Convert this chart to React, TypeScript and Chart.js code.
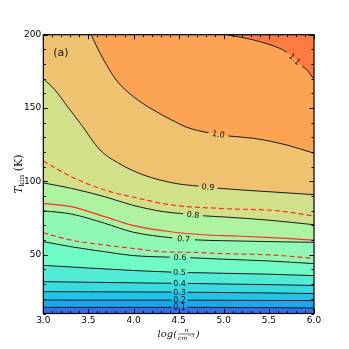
import React, { useEffect, useRef } from 'react';
import { Chart, registerables } from 'chart.js';

Chart.register(...registerables);

// ---------------- data ----------------
const levels = ['0.1', '0.2', '0.3', '0.4', '0.5', '0.6', '0.7', '0.8', '0.9', '1.0', '1.1'];

const xLow = [3.0, 3.5, 4.0, 4.42, 4.6, 5.0, 5.5, 6.0];
const t01 = [14.2, 14.2, 14.2, 14.2, 14.2, 14.1, 14.0, 13.8];
const t02 = [19.2, 19.1, 19.1, 19.1, 19.1, 19.0, 18.9, 18.8];
const t03 = [24.9, 24.8, 24.7, 24.6, 24.5, 24.3, 24.0, 23.6];
const t04 = [31.7, 31.3, 30.9, 30.6, 30.5, 30.1, 29.7, 29.1];
const t05 = [42.8, 41.0, 39.3, 38.2, 37.9, 37.4, 36.8, 35.8];
const x06 = [3.0, 3.31, 3.68, 3.99, 4.4, 4.63, 5.0, 5.5, 6.0];
const t06 = [59.0, 55.5, 52.1, 49.5, 48.4, 48.0, 47.0, 45.8, 44.0];
const x07 = [3.0, 3.31, 3.68, 3.99, 4.43, 4.68, 5.0, 5.5, 6.0];
const t07 = [80.0, 77.8, 71.5, 65.5, 61.5, 60.2, 59.6, 59.0, 58.5];
const x08 = [3.0, 3.31, 3.68, 3.99, 4.33, 4.55, 4.77, 5.0, 5.5, 6.0];
const t08 = [99.0, 95.3, 89.6, 83.8, 79.4, 78.0, 76.6, 75.8, 73.6, 70.5];
const x09 = [3.0, 3.13, 3.28, 3.41, 3.63, 3.85, 4.11, 4.46, 4.72, 4.93, 5.5, 6.0];
const t09 = [170, 162.3, 150, 139.6, 121.4, 111.9, 104.4, 98.7, 96.8, 95.4, 93.0, 91.0];
const x10 = [3.53, 3.63, 3.81, 4.0, 4.22, 4.46, 4.59, 4.83, 5.05, 5.33, 5.7, 6.0];
const t10 = [200, 187.3, 169, 157.7, 148.7, 140.7, 136.9, 133.2, 131.0, 129.4, 124.8, 119.2];
const x11 = [5.03, 5.33, 5.62, 5.7, 5.87, 5.93, 6.0];
const t11 = [200, 196.4, 190.7, 188.0, 178.6, 175.5, 169.6];

// x where each contour label's gap starts
const labelGapFrom = [4.42, 4.42, 4.42, 4.42, 4.42, 4.4, 4.43, 4.55, 4.72, 4.83, 5.7];

// red overlay lines
const redLowX = [3.0, 3.31, 3.68, 3.99, 4.33, 4.7, 5.0, 5.5, 6.0];
const redLowT = [65, 60, 56.7, 54.4, 52.1, 51.6, 50.8, 50.0, 47.6];
const redMidX = [3.0, 3.31, 3.68, 3.99, 4.41, 4.81, 5.14, 5.7, 6.0];
const redMidT = [85, 82.8, 76, 70, 65.7, 63.5, 62.8, 61.2, 60];
const redUpX = [3.0, 3.31, 3.68, 3.99, 4.42, 5.0, 5.6, 6.0];
const redUpT = [113.9, 103.2, 94.2, 89.4, 84, 81.5, 80, 76.5];

const xTicks = [3.0, 3.5, 4.0, 4.5, 5.0, 5.5, 6.0];
const yTicks = [50, 100, 150, 200];

const fillColors = [
  '#2f6fe8', '#17a8ee', '#20c4e8', '#38dbe0', '#52ecd6', '#70fac6',
  '#8ff8b4', '#aef3a0', '#d3e08a', '#efc26f', '#fda354', '#ff7a40',
];

const contours = [
  { x: xLow, t: t01 }, { x: xLow, t: t02 }, { x: xLow, t: t03 }, { x: xLow, t: t04 },
  { x: xLow, t: t05 }, { x: x06, t: t06 }, { x: x07, t: t07 }, { x: x08, t: t08 },
  { x: x09, t: t09 }, { x: x10, t: t10 }, { x: x11, t: t11 },
];

const redLines = [
  { x: redUpX, t: redUpT, dash: [5, 3] },
  { x: redMidX, t: redMidT, dash: [] as number[] },
  { x: redLowX, t: redLowT, dash: [5, 3] },
];

const LINE = '#1a1a1a';
const RED = '#ff2a2a';

const decor = {
  id: 'decor',
  beforeDatasetsDraw(chart: any) {
    const { ctx, chartArea: a } = chart;
    ctx.save();
    ctx.fillStyle = fillColors[0];
    ctx.fillRect(a.left, a.top, a.right - a.left, a.bottom - a.top);
    ctx.restore();
  },
  afterDatasetsDraw(chart: any) {
    const { ctx, chartArea: a, scales } = chart;
    const xs = scales.x, ys = scales.y;
    // contour labels
    ctx.save();
    ctx.font = '8px "DejaVu Sans"';
    ctx.fillStyle = '#111';
    ctx.textAlign = 'center';
    ctx.textBaseline = 'middle';
    contours.forEach((c, i) => {
      const j = c.x.indexOf(labelGapFrom[i]);
      if (j < 0) return;
      const x0 = xs.getPixelForValue(c.x[j]);
      const y0 = ys.getPixelForValue(c.t[j]);
      const x1 = xs.getPixelForValue(c.x[j + 1]);
      const y1 = ys.getPixelForValue(c.t[j + 1]);
      ctx.save();
      ctx.translate((x0 + x1) / 2, (y0 + y1) / 2);
      ctx.rotate(Math.atan2(y1 - y0, x1 - x0));
      ctx.fillText(levels[i], 0, 0.5);
      ctx.restore();
    });
    ctx.restore();

    // panel label
    ctx.save();
    ctx.font = '11px "DejaVu Sans"';
    ctx.fillStyle = '#111';
    ctx.textAlign = 'left';
    ctx.textBaseline = 'middle';
    ctx.fillText('(a)', a.left + 10, a.top + 18);
    ctx.restore();

    // frame and inward ticks
    ctx.save();
    ctx.strokeStyle = '#000';
    ctx.lineWidth = 1;
    ctx.beginPath();
    for (let k = 0; k <= 30; k++) {
      const v = 3 + k * 0.1;
      const len = k % 5 === 0 ? 4.5 : 2.5;
      const px = Math.round(xs.getPixelForValue(v)) + 0.5;
      ctx.moveTo(px, a.bottom);
      ctx.lineTo(px, a.bottom - len);
      ctx.moveTo(px, a.top);
      ctx.lineTo(px, a.top + len);
    }
    for (let v = 10; v <= 200; v += 10) {
      const len = v % 50 === 0 ? 4.5 : 2.5;
      const py = Math.round(ys.getPixelForValue(v)) + 0.5;
      ctx.moveTo(a.left, py);
      ctx.lineTo(a.left + len, py);
      ctx.moveTo(a.right, py);
      ctx.lineTo(a.right - len, py);
    }
    ctx.stroke();
    ctx.lineWidth = 1.2;
    ctx.strokeRect(a.left, a.top, a.right - a.left, a.bottom - a.top);
    ctx.restore();
  },
  afterDraw(chart: any) {
    const { ctx, chartArea: a } = chart;
    ctx.save();
    ctx.fillStyle = '#111';
    ctx.strokeStyle = '#111';
    ctx.textBaseline = 'alphabetic';
    ctx.textAlign = 'left';
    // x title: log(n / cm^-3)
    const cx = (a.left + a.right) / 2;
    const yb = a.bottom + 23;
    const fBig = 'italic 10px "DejaVu Serif"';
    const fSmall = 'italic 6px "DejaVu Serif"';
    const fSup = 'italic 4.5px "DejaVu Serif"';
    ctx.font = fBig;
    const wLog = ctx.measureText('log(').width;
    const wClose = ctx.measureText(')').width;
    ctx.font = fSmall;
    const wCm = ctx.measureText('cm').width;
    ctx.font = fSup;
    const wSup = ctx.measureText('−3').width;
    const fracW = wCm + wSup + 1;
    const total = wLog + fracW + 2 + wClose;
    const x0 = cx - total / 2;
    ctx.font = fBig;
    ctx.fillText('log(', x0, yb);
    const fx = x0 + wLog + 1;
    ctx.lineWidth = 0.6;
    ctx.beginPath();
    ctx.moveTo(fx, yb - 2.5);
    ctx.lineTo(fx + fracW, yb - 2.5);
    ctx.stroke();
    ctx.font = fSmall;
    ctx.textAlign = 'center';
    ctx.fillText('n', fx + fracW / 2, yb - 5);
    ctx.textAlign = 'left';
    ctx.fillText('cm', fx, yb + 3);
    ctx.font = fSup;
    ctx.fillText('−3', fx + wCm + 0.5, yb);
    ctx.font = fBig;
    ctx.fillText(')', fx + fracW + 1, yb);

    // y title: T_kin (K)
    const cy = (a.top + a.bottom) / 2;
    ctx.translate(22, cy);
    ctx.rotate(-Math.PI / 2);
    const fT = 'italic 11px "DejaVu Serif"';
    const fSub = '7.5px "DejaVu Serif"';
    const fK = '11px "DejaVu Serif"';
    ctx.font = fT;
    const wT = ctx.measureText('T').width;
    ctx.font = fSub;
    const wKin = ctx.measureText('kin').width;
    ctx.font = fK;
    const wK = ctx.measureText(' (K)').width;
    const tot = wT + wKin + wK;
    let xx = -tot / 2;
    ctx.font = fT;
    ctx.fillText('T', xx, 0);
    xx += wT;
    ctx.font = fSub;
    ctx.fillText('kin', xx, 2);
    xx += wKin;
    ctx.font = fK;
    ctx.fillText(' (K)', xx, 0);
    ctx.restore();
  },
};

export default function App() {
  const ref = useRef<HTMLCanvasElement | null>(null);
  useEffect(() => {
    if (!ref.current) return;
    const datasets: any[] = [];
    // filled bands (drawn first, lowest level first)
    contours.forEach((c, i) => {
      datasets.push({
        type: 'line',
        data: c.x.map((x, j) => ({ x, y: c.t[j] })),
        borderColor: 'rgba(0,0,0,0)',
        borderWidth: 0,
        pointRadius: 0,
        fill: 'end',
        backgroundColor: fillColors[i + 1],
        cubicInterpolationMode: 'monotone',
        order: 100 - i,
      });
    });
    // contour lines with a gap for the label
    contours.forEach((c, i) => {
      const gi = c.x.indexOf(labelGapFrom[i]);
      datasets.push({
        type: 'line',
        data: c.x.map((x, j) => ({ x, y: c.t[j] })),
        borderColor: LINE,
        borderWidth: 1,
        pointRadius: 0,
        fill: false,
        cubicInterpolationMode: 'monotone',
        order: 10,
        segment: {
          borderColor: (ctx: any) => (ctx.p0DataIndex === gi ? 'rgba(0,0,0,0)' : LINE),
        },
      });
    });
    redLines.forEach((r) => {
      datasets.push({
        type: 'line',
        data: r.x.map((x, j) => ({ x, y: r.t[j] })),
        borderColor: RED,
        borderWidth: 1.2,
        borderDash: r.dash,
        pointRadius: 0,
        fill: false,
        cubicInterpolationMode: 'monotone',
        order: 0,
      });
    });

    const chart = new Chart(ref.current, {
      type: 'line',
      data: { datasets },
      options: {
        responsive: false,
        animation: false,
        layout: { padding: { left: 0, top: 34.7, right: 35, bottom: 0 } },
        scales: {
          x: {
            type: 'linear',
            min: 3,
            max: 6,
            grid: { display: false, drawTicks: false },
            border: { display: false },
            ticks: {
              color: '#000',
              padding: 2,
              font: { family: 'DejaVu Sans', size: 9 },
              callback: (v: any) => Number(v).toFixed(1),
            },
            afterBuildTicks: (s: any) => {
              s.ticks = xTicks.map((v) => ({ value: v }));
            },
            afterFit: (s: any) => {
              s.height = 35.5;
            },
          },
          y: {
            type: 'linear',
            min: 10,
            max: 200,
            grid: { display: false, drawTicks: false },
            border: { display: false },
            ticks: {
              color: '#000',
              padding: 2,
              font: { family: 'DejaVu Sans', size: 9 },
              callback: (v: any) => String(v),
            },
            afterBuildTicks: (s: any) => {
              s.ticks = yTicks.map((v) => ({ value: v }));
            },
            afterFit: (s: any) => {
              s.width = 43.3;
            },
          },
        },
        plugins: {
          legend: { display: false },
          tooltip: { enabled: false },
        },
      } as any,
      plugins: [decor],
    });
    return () => chart.destroy();
  }, []);

  return (
    <div style={{ position: 'absolute', left: 0, top: 0, width: 349, height: 349, background: '#fff' }}>
      <canvas ref={ref} width={349} height={349} style={{ display: 'block' }} />
    </div>
  );
}
